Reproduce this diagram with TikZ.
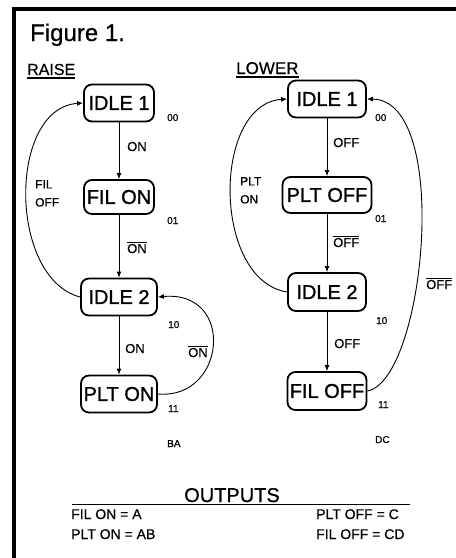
\documentclass[tikz,border=0pt]{standalone}
\usepackage{fontspec}
\setmainfont{Liberation Sans}
\newfontfamily\heavy[FakeBold=1.2]{Liberation Sans}
\newfontfamily\semi[FakeBold=0.6]{Liberation Sans}
\usetikzlibrary{arrows.meta}
\begin{document}
\begin{tikzpicture}[x=1pt,y=-1pt,
  state/.style={draw, line width=1.8pt, rounded corners=8pt, inner sep=0pt, minimum height=37pt, font=\heavy\fontsize{20}{20}\selectfont},
  lbl/.style={anchor=base west, inner sep=0pt, font=\semi\fontsize{13}{13}\selectfont},
  code/.style={anchor=base west, inner sep=0pt, font=\semi\fontsize{10}{10}\selectfont},
  outp/.style={anchor=base west, inner sep=0pt, font=\semi\fontsize{14}{14}\selectfont},
  conn/.style={line width=0.9pt, -{Latex[length=6pt,width=5pt]}},
]
\useasboundingbox (0,0) rectangle (456,558);
\fill[white] (0,0) rectangle (456,558);
% frame
\draw[line width=4pt] (14,558) -- (14,9) -- (456,9);
% titles
\node[anchor=base west, inner sep=0pt, font=\semi\fontsize{24}{24}\selectfont] (fig) at (30,41) {Figure 1.};
\node[anchor=base west, inner sep=0pt, font=\semi\fontsize{16}{16}\selectfont] (raise) at (27,75) {RAISE};
\node[anchor=base west, inner sep=0pt, font=\semi\fontsize{17}{17}\selectfont] (lower) at (236,74) {LOWER};
\draw[line width=1.2pt] ([yshift=-3pt]raise.base west) -- ([yshift=-3pt]raise.base east);
\draw[line width=1.2pt] ([yshift=-3pt]lower.base west) -- ([yshift=-3pt]lower.base east);
% RAISE states
\node[state, minimum width=70pt] (r1) at (119,103) {IDLE 1};
\node[state, minimum width=70pt, minimum height=34pt] (r2) at (119,197) {FIL ON};
\node[state, minimum width=76pt] (r3) at (119,297) {IDLE 2};
\node[state, minimum width=76pt] (r4) at (119,394) {PLT ON};
\draw[conn] (r1) -- (r2);
\draw[conn] (r2) -- (r3);
\draw[conn] (r3) -- (r4);
\draw[conn] (r3.west) .. controls (8,278) and (8,108) .. (r1.west);
\draw[conn] (r4.east) .. controls (226,400) and (236,290) .. (r3.east);
\node[code] (c00) at (167,121) {00};
\node[lbl] (t1) at (127,151) {ON};
\node[code] (c01) at (167,224) {01};
\node[lbl] (t2) at (127,253) {$\overline{\mbox{ON}}$};
\node[code] (c10) at (168,328) {10};
\node[lbl] (t3) at (125,353) {ON};
\node[lbl] (t4) at (188,357) {$\overline{\mbox{ON}}$};
\node[code] (c11) at (168,412) {11};
\node[code] (cba) at (167,447) {BA};
\node[lbl, align=left, anchor=north west, font=\semi\fontsize{12}{18}\selectfont] (t5) at (35,180) {FIL\\OFF};
% LOWER states
\node[state, minimum width=78pt] (l1) at (327,99) {IDLE 1};
\node[state, minimum width=89pt, minimum height=36pt] (l2) at (327,195) {PLT OFF};
\node[state, minimum width=78pt, minimum height=38pt] (l3) at (327,292) {IDLE 2};
\node[state, minimum width=79pt, minimum height=38pt] (l4) at (327,391) {FIL OFF};
\draw[conn] (l1) -- (l2);
\draw[conn] (l2) -- (l3);
\draw[conn] (l3) -- (l4);
\draw[conn] (l3.west) .. controls (212,280) and (212,104) .. (l1.west);
\draw[conn] (l4.east) .. controls (425,380) and (452,100) .. (l1.east);
\node[code] (d00) at (375,121) {00};
\node[lbl] (s1) at (333,147) {OFF};
\node[code] (d01) at (375,222) {01};
\node[lbl] (s2) at (333,247) {$\overline{\mbox{OFF}}$};
\node[code] (d10) at (376,324) {10};
\node[lbl] (s3) at (334,348) {OFF};
\node[lbl] (s4) at (426,289) {$\overline{\mbox{OFF}}$};
\node[code] (d11) at (378,408) {11};
\node[code] (ddc) at (375,443) {DC};
\node[lbl, align=left, anchor=north west, font=\semi\fontsize{12}{18}\selectfont] (s5) at (240,177) {PLT\\ON};
% outputs
\node[anchor=base, inner sep=0pt, font=\semi\fontsize{20}{20}\selectfont] (out) at (232,502) {OUTPUTS};
\draw[line width=0.9pt] (72,504) -- (410,504);
\node[outp] (o1) at (71,519) {FIL ON = A};
\node[outp] (o2) at (71,539) {PLT ON = AB};
\node[outp] (o3) at (316,519) {PLT OFF = C};
\node[outp] (o4) at (316,539) {FIL OFF = CD};
\end{tikzpicture}
\end{document}
